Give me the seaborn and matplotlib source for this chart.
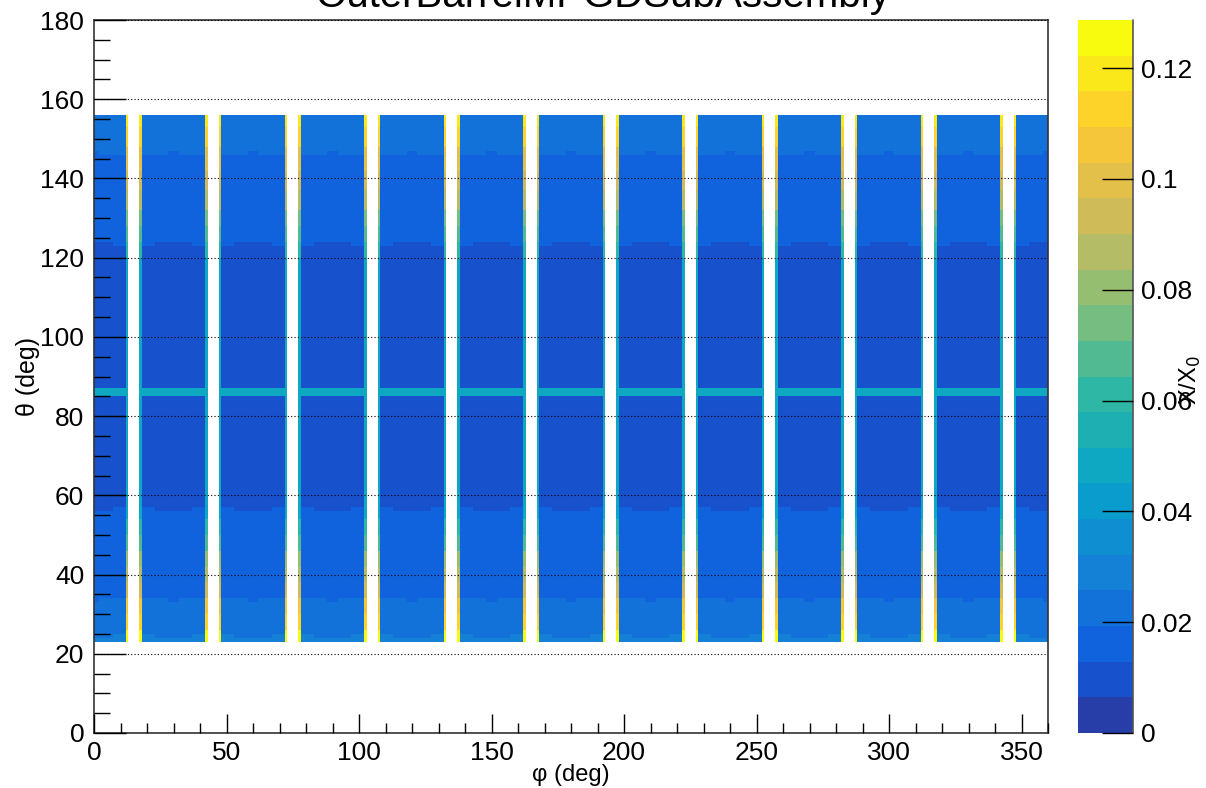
import numpy as np
import pandas as pd
import seaborn as sns
import matplotlib.pyplot as plt
from matplotlib.colors import LinearSegmentedColormap, ListedColormap
from matplotlib.ticker import MultipleLocator, FuncFormatter

# binning of the histogram (1 deg bins)
n_phi = 360
n_theta = 180

# white gaps between the 12 modules (first bin of every gap, gap width in bins)
gap_phi_lo = [13, 43, 73, 103, 133, 163, 193, 223, 253, 283, 313, 343]
gap_width = 4
module_centre = [0, 30, 60, 90, 120, 150, 180, 210, 240, 270, 300, 330]

# theta bands inside a module and their X/X0 (near the module sides)
band_lo = [23, 25, 34, 57, 85, 87, 123, 146]
band_hi = [25, 34, 57, 85, 87, 123, 146, 156]
band_x0 = [0.028, 0.022, 0.016, 0.010, 0.048, 0.010, 0.016, 0.022]
# same bands a few bins around the module centre
band_lo_centre = [23, 24, 34, 56, 85, 87, 124, 146]
band_hi_centre = [24, 34, 56, 85, 87, 124, 146, 156]
band_lo_core = [23, 24, 33, 56, 85, 87, 124, 147]
band_hi_core = [24, 33, 56, 85, 87, 124, 147, 156]

# X/X0 in the bin right next to each gap (frame edge), by theta
edge_lo = [23, 26, 30, 34, 38, 42, 46, 50, 54, 120, 124, 128, 132, 137, 142, 148, 153]
edge_hi = [26, 30, 34, 38, 42, 46, 50, 54, 120, 124, 128, 132, 137, 142, 148, 153, 156]
edge_x0 = [0.125, 0.112, 0.105, 0.095, 0.088, 0.078, 0.068, 0.060, 0.050,
           0.060, 0.068, 0.075, 0.085, 0.095, 0.102, 0.110, 0.122]

z_max = 0.1287
cbar_ticks = [0, 0.02, 0.04, 0.06, 0.08, 0.1, 0.12]

# build the 2D histogram
grid = np.full((n_theta, n_phi), np.nan)
for p in range(n_phi):
    d = min(abs(((p + 0.5 - c) + 180) % 360 - 180) for c in module_centre)
    if d <= 1.5:
        lo, hi = band_lo_core, band_hi_core
    elif d <= 6.5:
        lo, hi = band_lo_centre, band_hi_centre
    else:
        lo, hi = band_lo, band_hi
    for a, b, v in zip(lo, hi, band_x0):
        grid[a:b, p] = v
for g in gap_phi_lo:
    grid[:, g:g + gap_width] = np.nan
    for p in (g - 1, g + gap_width):
        grid[:, p] = np.nan
        for a, b, v in zip(edge_lo, edge_hi, edge_x0):
            grid[a:b, p] = v

df = pd.DataFrame(grid)

# ROOT kBird palette, 20 contour levels
stops = [0.0, 0.125, 0.25, 0.375, 0.5, 0.625, 0.75, 0.875, 1.0]
red = [0.2082, 0.0592, 0.0780, 0.0232, 0.1802, 0.5301, 0.8186, 0.9956, 0.9764]
green = [0.1664, 0.3599, 0.5041, 0.6419, 0.7178, 0.7492, 0.7328, 0.7862, 0.9832]
blue = [0.5293, 0.8684, 0.8385, 0.7914, 0.6425, 0.4662, 0.3499, 0.1968, 0.0539]
bird = LinearSegmentedColormap.from_list('bird', list(zip(stops, zip(red, green, blue))))
cmap = ListedColormap([bird((i + 0.99) / 20) for i in range(20)])

sns.set_style("ticks")
plt.rcParams['font.family'] = ['Liberation Sans', 'DejaVu Sans']
plt.rcParams['text.color'] = 'black'
plt.rcParams['axes.labelcolor'] = 'black'
plt.rcParams['xtick.color'] = 'black'
plt.rcParams['ytick.color'] = 'black'

fig = plt.figure(figsize=(12.06, 7.88), dpi=100)
W, H = 1206, 788
ax = fig.add_axes([94 / W, 1 - 733 / H, (1048 - 94) / W, (733 - 20) / H])
cax = fig.add_axes([1078 / W, 1 - 733 / H, (1133 - 1078) / W, (733 - 20) / H])

sns.heatmap(df, cmap=cmap, vmin=0, vmax=z_max, ax=ax, cbar_ax=cax,
            xticklabels=False, yticklabels=False)

ax.set_xlim(0, n_phi)
ax.set_ylim(0, n_theta)
for s in ax.spines.values():
    s.set_visible(True)
    s.set_color('#333333')
    s.set_linewidth(1.2)

ax.xaxis.set_major_locator(MultipleLocator(50))
ax.xaxis.set_minor_locator(MultipleLocator(10))
ax.yaxis.set_major_locator(MultipleLocator(20))
ax.yaxis.set_minor_locator(MultipleLocator(5))
ax.xaxis.set_major_formatter(FuncFormatter(lambda v, p: f"{v:g}"))
ax.yaxis.set_major_formatter(FuncFormatter(lambda v, p: f"{v:g}"))
ax.tick_params(axis='x', which='major', direction='in', length=14, width=1, labelsize=19, pad=6,
               bottom=True, top=False)
ax.tick_params(axis='x', which='minor', direction='in', length=7, width=1, bottom=True, top=False)
ax.tick_params(axis='y', which='major', direction='in', length=23, width=1, labelsize=19, pad=7,
               left=True, right=False)
ax.tick_params(axis='y', which='minor', direction='in', length=11.5, width=1, left=True, right=False)
ax.set_axisbelow(False)
ax.yaxis.grid(True, which='major', linestyle=(0, (1, 2)), color='black', linewidth=0.8)
ax.xaxis.grid(False)

ax.set_xlabel('φ (deg)', fontsize=17, labelpad=-1)
ax.set_ylabel('θ (deg)', fontsize=18, labelpad=0)

fig.text(0.5, 1 - 7 / H, 'OuterBarrelMPGDSubAssembly', ha='center', va='baseline', fontsize=29)

# colour bar in ROOT style
cbar = ax.collections[0].colorbar
cbar.outline.set_visible(False)
cbar.set_ticks(cbar_ticks)
cax.set_axisbelow(False)
cax.yaxis.set_major_formatter(FuncFormatter(lambda v, p: f"{v:g}"))
cax.tick_params(axis='y', which='major', direction='in', length=22, width=1, labelsize=19,
                right=True, left=False, pad=6, color='black')
cax.tick_params(axis='y', which='minor', right=False, left=False)
cax.axvline(1, color='#555555', lw=1.2, clip_on=False)
fig.text(1190 / W, 1 - 380 / H, 'X/X$_0$', rotation=90, ha='center', va='center', fontsize=17)

fig.savefig('out.png', dpi=100)
